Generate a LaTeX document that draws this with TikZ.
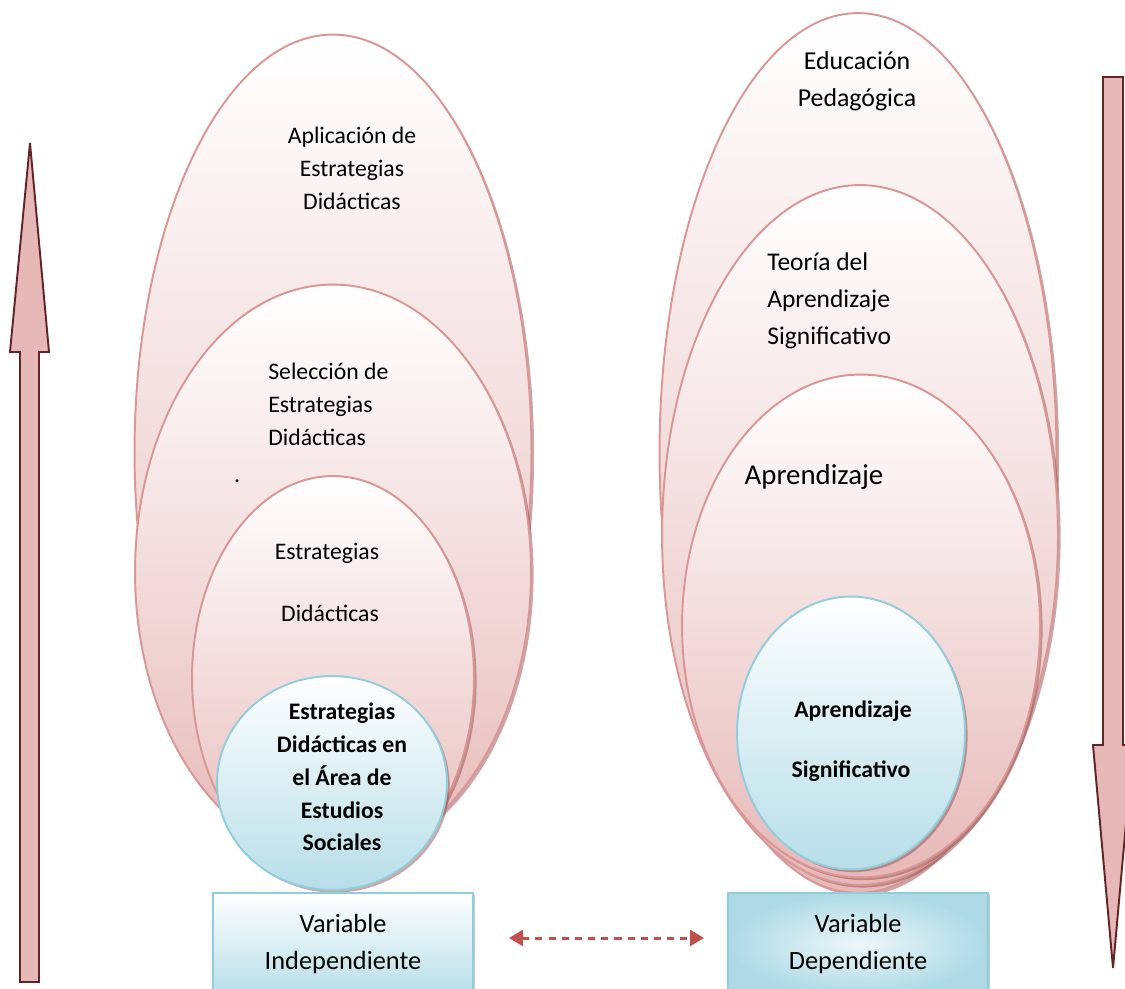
\documentclass[tikz,border=0pt]{standalone}
\usepackage{fontspec}
\setmainfont{Carlito}
\usepackage{tikz}
\usetikzlibrary{positioning}
\usetikzlibrary{shapes,shadows}
\usetikzlibrary{arrows.meta}
\usepackage{xcolor}
\definecolor{rosaborde}{RGB}{217,150,148}
\definecolor{rosafondo}{RGB}{230,185,184}
\definecolor{rosasombra}{RGB}{150,80,78}
\definecolor{flechafondo}{RGB}{230,185,184}
\definecolor{flechaborde}{RGB}{99,37,35}
\definecolor{celesteborde}{RGB}{146,205,220}
\definecolor{celestefondo}{RGB}{183,222,232}
\definecolor{rojoflecha}{RGB}{192,80,77}

\begin{document}
\begin{tikzpicture}
[x=0.02cm, y=-0.02cm,
% The esfera style is used to draw the pink ellipses
esfera/.style={ellipse, draw=rosaborde, line width=1.1pt, inner sep=0pt, top color=white, bottom color=rosafondo, drop shadow={shadow xshift=1.5pt, shadow yshift=-1.5pt, fill=rosasombra, opacity=.5}},
% The nucleo style is used to draw the blue inner circles
nucleo/.style={ellipse, draw=celesteborde, line width=1.1pt, inner sep=0pt, top color=white, bottom color=celestefondo, drop shadow={shadow xshift=1.5pt, shadow yshift=-1.5pt, fill=rosasombra, opacity=.5}},
% The caja style is used to draw the variables
caja/.style={rectangle, draw=celesteborde, line width=1.1pt, minimum width=5.2cm, minimum height=2.04cm, align=center, font=\fontsize{15}{21.5}\selectfont, drop shadow={shadow xshift=1.2pt, shadow yshift=-1.2pt, fill=black!40, opacity=.5}},
texto/.style={inner sep=0pt, align=center, font=\fontsize{13.5}{18.7}\selectfont},
negrita/.style={inner sep=0pt, align=center, font=\bfseries\fontsize{13.5}{18.7}\selectfont},
flecha/.style={fill=flechafondo, draw=flechaborde, line width=1.1pt, line join=miter},
flechadoble/.style={{Triangle[length=8pt,width=9pt]}-{Triangle[length=8pt,width=9pt]}, rojoflecha, line width=1.7pt, dash pattern=on 4pt off 3.5pt}
]
\path[use as bounding box, fill=white] (0,0) rectangle (1125,988);

% Big arrows on both sides
\draw[flecha] (20,982) -- (20,352) -- (10,352) -- (30,143) -- (49,352) -- (39,352) -- (39,982) -- cycle;
\draw[flecha] (1103,77) -- (1123,77) -- (1123,745) -- (1133,745) -- (1113,968) -- (1093,745) -- (1103,745) -- cycle;

% Left side: independent variable
\node[esfera, minimum width=7.94cm, minimum height=16.7cm] (aplicacion) at (333,452) {};
\node[esfera, minimum width=7.92cm, minimum height=11.5cm] (seleccion) at (333,572) {};
\node[esfera, minimum width=5.64cm, minimum height=8.08cm] (estrategias) at (333,678) {};
\node[nucleo, minimum width=4.6cm, minimum height=4.28cm] (area) at (332,783) {};

\node[texto] (t-aplicacion) at (352,168) {Aplicación de\\Estrategias\\Didácticas};
\node[texto, align=left, anchor=west] (t-seleccion) at (268,404) {Selección de\\Estrategias\\Didácticas};
\node[texto] (t-punto) at (237,481) {.};
\node[texto] (t-estrategias) at (327,553) {Estrategias};
\node[texto] (t-didacticas) at (330,613) {Didácticas};
\node[negrita] (t-area) at (342,777) {Estrategias\\Didácticas en\\el Área de\\Estudios\\Sociales};

% Right side: dependent variable
\node[esfera, minimum width=7.94cm, minimum height=17.6cm] (educacion) at (858,453) {};
\node[esfera, minimum width=7.92cm, minimum height=14cm] (teoria) at (860,535) {};
\node[esfera, minimum width=7.16cm, minimum height=10.06cm] (aprendizaje) at (861,626) {};
\node[nucleo, minimum width=4.56cm, minimum height=5.46cm] (significativo) at (851,733) {};

\node[texto, font=\fontsize{14.7}{21}\selectfont] (t-educacion) at (857,81) {Educación\\Pedagógica};
\node[texto, align=left, anchor=west, font=\fontsize{14.5}{21}\selectfont] (t-teoria) at (767,301) {Teoría del\\Aprendizaje\\Significativo};
\node[texto, font=\fontsize{16.4}{20}\selectfont] (t-aprendizaje) at (814,477) {Aprendizaje};
\node[negrita] (t-apr) at (853,711) {Aprendizaje};
\node[negrita] (t-sig) at (851,771) {Significativo};

% Variables
\node[caja, top color=white, bottom color=celestefondo] (vi) at (343,944) {Variable\\Independiente};
\node[caja, inner color=celestefondo!25, outer color=celestefondo!75!celesteborde] (vd) at (858,944) {Variable\\Dependiente};
\draw[flechadoble] ([xshift=0.7cm,yshift=0.12cm]vi.east) -- ([xshift=-0.46cm,yshift=0.12cm]vd.west);
\end{tikzpicture}
\end{document}
